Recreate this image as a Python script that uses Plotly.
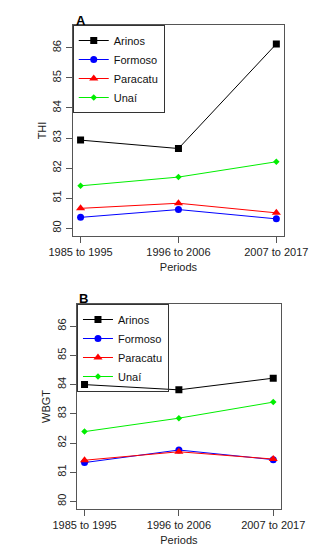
import plotly.graph_objects as go

periods = ["1985 to 1995", "1996 to 2006", "2007 to 2017"]
stations = ["Arinos", "Formoso", "Paracatu", "Unaí"]
thi_arinos = [82.93, 82.65, 86.13]
thi_formoso = [80.36, 80.62, 80.31]
thi_paracatu = [80.66, 80.83, 80.51]
thi_unai = [81.41, 81.70, 82.21]
wbgt_arinos = [84.00, 83.82, 84.22]
wbgt_formoso = [81.33, 81.76, 81.43]
wbgt_paracatu = [81.41, 81.70, 81.45]
wbgt_unai = [82.39, 82.85, 83.40]
y_ticks = [80, 81, 82, 83, 84, 85, 86]

colors = ["#000000", "#0000FF", "#FF0000", "#00EE00"]
symbols = ["square", "circle", "triangle-up", "diamond"]
sizes = [7, 7, 8, 5]

fig = go.Figure()
W, H = 324, 550

def add_panel(series, xa, ya, legend):
    for name, vals, c, s, sz in zip(stations, series, colors, symbols, sizes):
        fig.add_trace(go.Scatter(
            x=periods, y=vals, name=name, mode="lines+markers",
            line=dict(color=c, width=1),
            marker=dict(symbol=s, size=sz, color=c),
            xaxis=xa, yaxis=ya, legend=legend))

add_panel([thi_arinos, thi_formoso, thi_paracatu, thi_unai], "x", "y", "legend")
add_panel([wbgt_arinos, wbgt_formoso, wbgt_paracatu, wbgt_unai], "x2", "y2", "legend2")

font = dict(family="Liberation Sans, Arial", size=11, color="#222")
axis_common = dict(showline=True, mirror=True, linecolor="#555", linewidth=1,
                   ticks="outside", ticklen=6, tickcolor="#555", showgrid=False,
                   zeroline=False, tickfont=font)

def legend_cfg(x0, y0):
    return dict(x=x0 / W, y=1 - y0 / H, xanchor="left", yanchor="top",
                bordercolor="#333", borderwidth=1, bgcolor="rgba(255,255,255,0)",
                font=dict(family="Liberation Sans, Arial", size=11, color="#111"),
                tracegroupgap=0, itemwidth=30)

fig.update_layout(
    width=W, height=H, margin=dict(l=0, r=0, t=0, b=0),
    plot_bgcolor="white", paper_bgcolor="white", font=font,
    xaxis=dict(domain=[47 / W, 297 / W], anchor="y", range=[-0.08, 2.08],
               title=dict(text="Periods", font=font, standoff=6), **axis_common),
    yaxis=dict(domain=[1 - 228 / H, 1 - 17 / H], anchor="x", range=[79.74, 86.76],
               tickvals=y_ticks, tickangle=-90,
               title=dict(text="THI", font=font, standoff=2), **axis_common),
    xaxis2=dict(domain=[52 / W, 293 / W], anchor="y2", range=[-0.08, 2.08],
                title=dict(text="Periods", font=font, standoff=6), **axis_common),
    yaxis2=dict(domain=[1 - 501 / H, 1 - 296 / H], anchor="x2", range=[79.74, 86.76],
                tickvals=y_ticks, tickangle=-90,
                title=dict(text="WBGT", font=font, standoff=2), **axis_common),
    legend=legend_cfg(47, 17),
    legend2=legend_cfg(52, 296),
    annotations=[
        dict(text="<b>A</b>", x=48 / W, y=1 - 3 / H, xref="paper", yref="paper",
             xanchor="left", yanchor="top", showarrow=False,
             font=dict(family="Liberation Sans, Arial", size=13, color="#000")),
        dict(text="<b>B</b>", x=52 / W, y=1 - 281 / H, xref="paper", yref="paper",
             xanchor="left", yanchor="top", showarrow=False,
             font=dict(family="Liberation Sans, Arial", size=13, color="#000")),
    ],
)

fig.write_html("out.html")
